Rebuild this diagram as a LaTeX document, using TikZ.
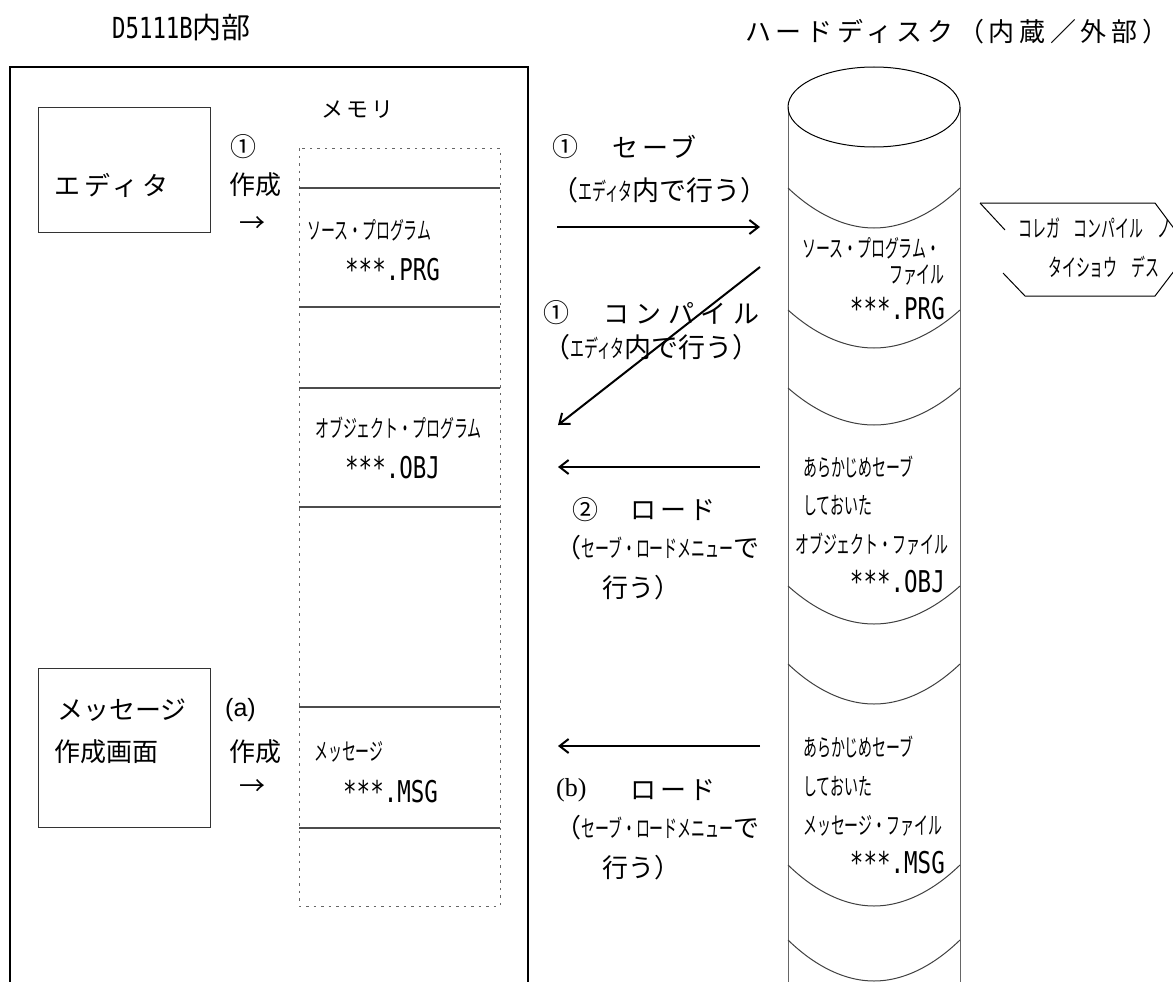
\documentclass[tikz,border=0pt]{standalone}
\usepackage{fontspec}
\setmainfont{Noto Sans CJK JP}
\newfontfamily\jpw[LetterSpace=15]{Noto Sans CJK JP}
\newfontfamily\jpt[LetterSpace=18]{Noto Sans CJK JP}
\newfontfamily\jpww[LetterSpace=25]{Noto Sans CJK JP}
\newfontfamily\jpn[FakeStretch=0.58]{Noto Sans CJK JP}
\newfontfamily\fmono[FakeStretch=0.75]{DejaVu Sans Mono}
\newfontfamily\fmonot[FakeStretch=0.77]{DejaVu Sans Mono}
\newfontfamily\lsans{Liberation Sans}
\newfontfamily\lserif{Liberation Serif}
\newcommand\nrw[1]{{\jpn\fontsize{24}{28}\selectfont #1}}
\usetikzlibrary{arrows.meta}
\tikzset{
  tx/.style={inner sep=0pt, font=\fontsize{26}{30}\selectfont},
  txp/.style={inner sep=0pt, font=\fontsize{27}{30}\selectfont},
  txw/.style={inner sep=0pt, font=\jpw\fontsize{26}{30}\selectfont},
  txww/.style={inner sep=0pt, font=\jpww\fontsize{26}{30}\selectfont},
  nar/.style={inner sep=0pt, font=\jpn\fontsize{24}{28}\selectfont},
  fm/.style={inner sep=0pt, font=\fmono\fontsize{30}{32}\selectfont},
  outerbox/.style={line width=2.5pt, black},
  boxst/.style={draw=black!80, line width=1.2pt},
  dotst/.style={draw=black!60, line width=1pt, dash pattern=on 2.5pt off 5pt},
  memline/.style={draw=black!70, line width=1.3pt},
  cyl/.style={draw=black!60, line width=1pt},
  ellst/.style={draw=black, line width=1pt},
  arcst/.style={draw=black!75, line width=1pt},
  arr/.style={line width=2pt, -{Straight Barb[length=9pt,width=14pt]}},
  tagst/.style={draw=black, line width=1pt},
}
\begin{document}
\begin{tikzpicture}[x=1pt,y=-1pt]
\useasboundingbox (0,0) rectangle (1173,982);
\clip (0,0) rectangle (1173,982);
\fill[white] (0,0) rectangle (1173,982);

% titles
\node[inner sep=0pt, anchor=west, font=\fontsize{29}{32}\selectfont] (titleL) at (112,28) {{\fmonot D5111B}内部};
\node[inner sep=0pt, anchor=west, font=\jpt\fontsize{26}{30}\selectfont] (titleR) at (745,32) {ハードディスク（内蔵／外部）};

% outer box (open at the bottom)
\draw[outerbox] (10,995) -- (10,67) -- (528,67) -- (528,995);

% editor box
\node[boxst, anchor=north west, minimum width=172, minimum height=125, inner sep=0pt] (editor) at (38,107) {};
\node[txw, anchor=west] (editorT) at (54,185) {エディタ};
\node[tx, anchor=west] (c1) at (230,147) {①};
\node[tx, anchor=west] (mk1) at (229,185) {作成};
\node[tx, anchor=west] (ar1) at (239,225) {→};

% message box
\node[boxst, anchor=north west, minimum width=172, minimum height=159, inner sep=0pt] (msgbox) at (38,668) {};
\node[tx, anchor=west] (msgT1) at (57,710) {メッセージ};
\node[tx, anchor=west] (msgT2) at (54,752) {作成画面};
\node[tx, anchor=west, font=\lsans\fontsize{25}{28}\selectfont] (ca) at (225,710) {(a)};
\node[tx, anchor=west] (mk2) at (229,752) {作成};
\node[tx, anchor=west] (ar2) at (239,788) {→};

% memory column
\node[inner sep=0pt, anchor=west, font=\jpw\fontsize{22}{26}\selectfont] (memT) at (321,110) {メモリ};
\draw[dotst] (299,148) rectangle (500,906);
\foreach \yy in {188,307,388,507,707,828}
  \draw[memline] (299,\yy) -- (500,\yy);
\node[nar, anchor=west] (m1a) at (307,230) {ソース・プログラム};
\node[fm, anchor=west] (m1b) at (345,270) {***.PRG};
\node[nar, anchor=west] (m2a) at (315,428) {オブジェクト・プログラム};
\node[fm, anchor=west] (m2b) at (345,468) {***.OBJ};
\node[nar, anchor=west] (m3a) at (314,752) {メッセージ};
\node[fm, anchor=west] (m3b) at (343,792) {***.MSG};

% arrows between memory and disk
\coordinate (sv1) at (557,227); \coordinate (sv2) at (760,227);
\coordinate (cp1) at (760,267); \coordinate (cp2) at (558,425);
\coordinate (ld1) at (760,467); \coordinate (ld2) at (558,467);
\coordinate (lb1) at (760,746); \coordinate (lb2) at (558,746);
\draw[arr] (sv1) -- (sv2);
\draw[arr] (cp1) -- (cp2);
\draw[arr] (ld1) -- (ld2);
\draw[arr] (lb1) -- (lb2);

% labels of arrows
\node[tx, anchor=west] (svn) at (552,147) {①};
\node[txw, anchor=west] (svt) at (612,147) {セーブ};
\node[txp, anchor=west] (svp) at (551,190) {（\nrw{エディタ}内で行う）};

\node[tx, anchor=west] (cpn) at (543,313) {①};
\node[txww, anchor=west] (cpt) at (603,313) {コンパイル};
\node[txp, anchor=west] (cpp) at (543,347) {（\nrw{エディタ}内で行う）};

\node[tx, anchor=west] (ldn) at (572,510) {②};
\node[txw, anchor=west] (ldt) at (630,510) {ロード};
\node[tx, anchor=west] (ldp) at (555,548) {（\nrw{セーブ・ロードメニュー}で};
\node[tx, anchor=west] (ldq) at (602,588) {行う）};

\node[tx, anchor=west, font=\lserif\fontsize{26}{28}\selectfont] (lbn) at (556,790) {(b)};
\node[txw, anchor=west] (lbt) at (630,790) {ロード};
\node[tx, anchor=west] (lbp) at (555,828) {（\nrw{セーブ・ロードメニュー}で};
\node[tx, anchor=west] (lbq) at (602,868) {行う）};

% hard disk cylinder
\draw[cyl] (788,107) -- (788,995);
\draw[cyl] (960,107) -- (960,995);
\draw[ellst] (874,107) ellipse [x radius=86, y radius=40];
\foreach \s/\b in {188/228, 310/348, 388/425, 586/624, 664/704, 865/906, 940/981}
  \draw[arcst] (788,\s) parabola bend (874,\b) (960,\s);

\node[nar, anchor=west] (d1a) at (802,248) {ソース・プログラム・};
\node[nar, anchor=east] (d1b) at (945,275) {ファイル};
\node[fm, anchor=east] (d1c) at (945,309) {***.PRG};

\node[nar, anchor=west] (d2a) at (803,467) {あらかじめセーブ};
\node[nar, anchor=west] (d2b) at (803,506) {しておいた};
\node[nar, anchor=west] (d2c) at (795,544) {オブジェクト・ファイル};
\node[fm, anchor=east] (d2d) at (945,582) {***.OBJ};

\node[nar, anchor=west] (d3a) at (803,747) {あらかじめセーブ};
\node[nar, anchor=west] (d3b) at (803,787) {しておいた};
\node[nar, anchor=west] (d3c) at (803,826) {メッセージ・ファイル};
\node[fm, anchor=east] (d3d) at (945,863) {***.MSG};

% comment tag on the right
\draw[tagst] (980,203) -- (1005,230);
\draw[tagst] (1003,273) -- (1025,296) -- (1155,296) -- (1190,250) -- (1155,203) -- (980,203);
\node[nar, anchor=west] (tag1) at (1018,228) {コレガ　コンパイル　ノ};
\node[nar, anchor=west] (tag2) at (1048,267) {タイショウ　デス};
\end{tikzpicture}
\end{document}
